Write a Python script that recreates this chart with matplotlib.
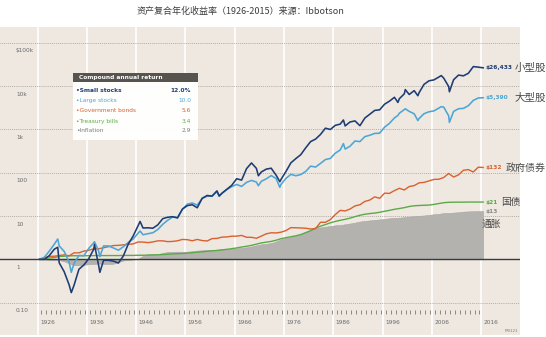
import matplotlib
matplotlib.use("Agg")
import matplotlib.pyplot as plt
import numpy as np
from matplotlib import font_manager
from matplotlib.patches import Rectangle

# Growth of $1 invested at the end of 1925 (year-end index values, 1925-2015)
YEARS = np.arange(1925, 2016)

SMALL_STOCKS = [
    1.00, 1.00, 1.22, 1.71, 0.83, 0.52, 0.26, 0.25, 0.59, 0.74,
    1.04, 1.71, 0.72, 0.95, 0.95, 0.91, 0.82, 1.19, 2.24, 3.45,
    5.98, 5.29, 5.34, 5.22, 6.25, 8.68, 9.36, 9.64, 9.01, 14.5,
    17.4, 18.2, 15.5, 25.6, 29.8, 28.8, 38.1, 33.5, 41.4, 51.2,
    72.6, 67.5, 124, 168, 126, 104, 121, 127, 87.6, 70.1,
    107, 169, 212, 261, 375, 524, 597, 764, 1067, 996,
    1241, 1326, 1203, 1485, 1572, 1217, 1831, 2241, 2746, 2835,
    3822, 4496, 5520, 5117, 6641, 6402, 7860, 7035, 10965, 13239,
    13901, 16169, 15269, 9784, 14041, 17970, 17274, 19804, 28257, 27420,
    26433,
]
LARGE_STOCKS = [
    1.00, 1.12, 1.55, 2.23, 2.04, 1.53, 0.87, 0.80, 1.23, 1.21,
    1.79, 2.39, 1.56, 2.04, 2.03, 1.83, 1.62, 1.95, 2.45, 2.94,
    4.01, 3.69, 3.90, 4.11, 4.88, 6.43, 7.98, 9.44, 9.35, 14.3,
    18.8, 20.0, 17.8, 25.6, 28.6, 28.8, 36.5, 33.3, 40.9, 47.7,
    53.6, 48.2, 59.8, 66.4, 60.8, 63.2, 72.2, 85.9, 73.3, 53.9,
    74.0, 91.6, 85.0, 90.6, 107, 142, 135, 164, 201, 214,
    282, 335, 352, 410, 540, 523, 681, 733, 807, 818,
    1125, 1382, 1843, 2370, 2868, 2607, 2297, 1789, 2302, 2553,
    2678, 3101, 3272, 2061, 2606, 2998, 3059, 3536, 4677, 5316,
    5390,
]
GOV_BONDS = [
    1.00, 1.08, 1.17, 1.18, 1.22, 1.27, 1.20, 1.41, 1.41, 1.55,
    1.62, 1.75, 1.75, 1.85, 1.96, 2.08, 2.10, 2.16, 2.21, 2.27,
    2.51, 2.50, 2.43, 2.52, 2.67, 2.67, 2.56, 2.59, 2.68, 2.88,
    2.84, 2.68, 2.88, 2.71, 2.65, 3.01, 3.04, 3.25, 3.29, 3.41,
    3.43, 3.56, 3.23, 3.22, 3.06, 3.43, 3.88, 4.10, 4.06, 4.23,
    4.61, 5.39, 5.35, 5.29, 5.22, 5.02, 5.10, 7.16, 7.17, 8.26,
    10.8, 13.5, 13.1, 14.5, 17.1, 18.2, 21.7, 23.4, 27.7, 25.6,
    33.7, 33.3, 38.6, 43.7, 39.9, 48.0, 50.3, 58.4, 59.8, 64.6,
    70.0, 70.7, 77.6, 96.1, 79.5, 89.1, 114, 118, 104, 134,
    132,
]
TREASURY_BILLS = [
    1.00, 1.03, 1.07, 1.10, 1.16, 1.18, 1.20, 1.21, 1.21, 1.21,
    1.21, 1.22, 1.22, 1.22, 1.22, 1.22, 1.22, 1.23, 1.23, 1.23,
    1.24, 1.24, 1.25, 1.26, 1.27, 1.29, 1.31, 1.33, 1.35, 1.36,
    1.39, 1.42, 1.46, 1.49, 1.53, 1.57, 1.60, 1.65, 1.70, 1.76,
    1.83, 1.92, 2.00, 2.10, 2.24, 2.39, 2.49, 2.59, 2.76, 2.99,
    3.16, 3.32, 3.49, 3.74, 4.13, 4.59, 5.27, 5.82, 6.34, 6.96,
    7.50, 7.96, 8.39, 8.93, 9.67, 10.4, 11.0, 11.4, 11.7, 12.2,
    12.9, 13.5, 14.3, 14.9, 15.6, 16.6, 17.2, 17.5, 17.7, 17.9,
    18.5, 19.4, 20.3, 20.7, 20.8, 20.9, 20.9, 21.0, 21.0, 21.0,
    21.0,
]
INFLATION = [
    1.00, 0.99, 0.97, 0.96, 0.96, 0.90, 0.81, 0.73, 0.73, 0.75,
    0.77, 0.78, 0.80, 0.78, 0.78, 0.79, 0.86, 0.94, 0.97, 0.99,
    1.02, 1.20, 1.31, 1.34, 1.32, 1.40, 1.48, 1.49, 1.50, 1.49,
    1.50, 1.54, 1.59, 1.62, 1.64, 1.66, 1.67, 1.70, 1.72, 1.74,
    1.78, 1.84, 1.89, 1.98, 2.10, 2.22, 2.29, 2.37, 2.58, 2.89,
    3.10, 3.25, 3.47, 3.78, 4.28, 4.81, 5.24, 5.45, 5.65, 5.88,
    6.10, 6.17, 6.44, 6.72, 7.03, 7.46, 7.69, 7.92, 8.13, 8.35,
    8.56, 8.85, 9.00, 9.14, 9.39, 9.71, 9.86, 10.1, 10.3, 10.6,
    11.0, 11.2, 11.7, 11.7, 12.0, 12.2, 12.6, 12.8, 12.9, 13.0,
    13.0,
]

# Intra-year highs and lows of the stock indices (decimal dates)
STOCK_EXTRA_DATES = [1929.70, 1932.45, 1937.15, 1938.25, 1946.40, 1962.45, 1970.40,
                     1974.75, 1987.65, 1998.70, 2000.20, 2002.75, 2007.50, 2009.15]
SMALL_EXTRA = [1.90, 0.17, 2.20, 0.50, 7.50, 29.0, 85.0,
               62.0, 1650, 4200, 8300, 6000, 17500, 7400]
LARGE_EXTRA = [2.95, 0.50, 2.55, 1.15, 4.50, 28.5, 50.0,
               46.0, 470, 2100, 3000, 1600, 3350, 1450]

SERIES_NAMES = ["Small stocks", "Large stocks", "Government bonds",
                "Treasury bills", "Inflation"]
CAGR_LABELS = ["12.0%", "10.0", "5.6", "3.4", "2.9"]
CN_NAMES = ["小型股", "大型股", "政府债券", "国债", "通胀"]
Y_TICKS = [0.1, 1, 10, 100, 1e3, 1e4, 1e5]
Y_TICK_LABELS = ["0.10", "1", "10", "100", "1k", "10k", "$100k"]
DECADES = np.arange(1926, 2017, 10)
TITLE = "资产复合年化收益率（1926-2015）来源：Ibbotson"

# Colours
BG = "#EEE8E1"
NAVY = "#1D3C74"
SKY = "#4DA6D3"
ORANGE = "#D8612E"
GREEN = "#5CA948"
GREY_FILL = "#B4B2AF"
GREY_TEXT = "#6A6A6A"
SERIES_COLORS = [NAVY, SKY, ORANGE, GREEN, "#7D7D7D"]

installed = {f.name for f in font_manager.fontManager.ttflist}
NARROW = "Liberation Sans Narrow" if "Liberation Sans Narrow" in installed else "DejaVu Sans"
SMALL = 5.0 if NARROW != "DejaVu Sans" else 4.2
CJK = ["Noto Sans CJK SC", "DejaVu Sans"]

W, H = 546, 337
fig = plt.figure(figsize=(W / 100, H / 100), dpi=100, facecolor="white")


def fx(x):
    return x / W


def fy(y):
    return 1 - y / H


def with_extremes(values, extra):
    """Merge year-end values with intra-year points, sorted by date."""
    dates = np.concatenate([YEARS + 1.0, STOCK_EXTRA_DATES])
    vals = np.concatenate([values, extra])
    order = np.argsort(dates)
    return dates[order], vals[order]


ax = fig.add_axes([0, fy(335), fx(520), fy(27) - fy(335)])
ax.set_facecolor(BG)
ax.set_yscale("log")
ax.set_xlim(1917.99, 2023.47)
ax.set_ylim(10 ** -1.748, 10 ** 5.365)
for s in ax.spines.values():
    s.set_visible(False)
ax.set_xticks([])
ax.set_yticks([])
ax.minorticks_off()

# decade column separators
for d in DECADES:
    ax.axvline(d - 0.4, color="white", lw=1.2, zorder=0.5)

# horizontal gridlines
for v in Y_TICKS:
    if v == 1:
        ax.axhline(v, color="#3A3A3A", lw=1.0, zorder=1.5)
    else:
        ax.axhline(v, color="#A39C95", lw=0.6, ls=(0, (1, 1.3)), zorder=0.6)

ytrans = ax.get_yaxis_transform()
for v, lab in zip(Y_TICKS, Y_TICK_LABELS):
    ax.annotate(lab, (16 / 520, v), xycoords=ytrans, xytext=(0, -5.8),
                textcoords="offset points", ha="left", va="center",
                fontsize=SMALL, family=NARROW, color=GREY_TEXT)

# year ticks and labels along the bottom
xtrans = ax.get_xaxis_transform()
ax.vlines(np.arange(1926, 2016) + 0.25, 0.068, 0.08, transform=xtrans,
          color="#7A7A7A", lw=0.6)
for d in DECADES:
    ax.text(d + 0.1, 0.039, str(d), transform=xtrans, ha="left", va="center",
            fontsize=SMALL, family=NARROW, color=GREY_TEXT)

t = YEARS + 1.0
ax.fill_between(t, 1, INFLATION, color=GREY_FILL, lw=0.4, edgecolor="#A8A6A3", zorder=1.2)
ax.plot(t, TREASURY_BILLS, color=GREEN, lw=1.0, zorder=2)
ax.plot(t, GOV_BONDS, color=ORANGE, lw=1.0, zorder=2.1)
ax.plot(*with_extremes(LARGE_STOCKS, LARGE_EXTRA), color=SKY, lw=1.15, zorder=2.2)
ax.plot(*with_extremes(SMALL_STOCKS, SMALL_EXTRA), color=NAVY, lw=1.15, zorder=2.3)

# ending values and Chinese series names
finals = [SMALL_STOCKS[-1], LARGE_STOCKS[-1], GOV_BONDS[-1],
          TREASURY_BILLS[-1], INFLATION[-1]]
label_colors = [NAVY, SKY, ORANGE, GREEN, "#8A8A8A"]
for v, c in zip(finals, label_colors):
    ax.text(2016.57, v, f"${v:,.0f}", ha="left", va="center", fontsize=SMALL,
            family=NARROW, fontweight="bold", color=c, clip_on=False)

cn_x = [2022.3, 2022.3, 2020.6, 2019.6, 2015.75]
cn_size = [7.6, 7.6, 7.2, 7.0, 7.0]
cn_offset = [0, 0, 0, 0, -9.0]
for name, x, v, sz, off in zip(CN_NAMES, cn_x, finals, cn_size, cn_offset):
    ax.annotate(name, (x, v), xytext=(0, off), textcoords="offset points",
                ha="left", va="center", fontsize=sz, family=CJK,
                color="#4A4A4A", annotation_clip=False)

# compound annual return box
fig.add_artist(Rectangle((fx(73), fy(140)), fx(198) - fx(73), fy(73) - fy(140),
                         transform=fig.transFigure, facecolor="white",
                         edgecolor="none", alpha=0.96, zorder=5))
fig.add_artist(Rectangle((fx(73), fy(82)), fx(198) - fx(73), fy(73) - fy(82),
                         transform=fig.transFigure, facecolor="#57534E",
                         edgecolor="none", zorder=6))
fig.text(fx(79), fy(77.5), "Compound annual return", ha="left", va="center",
         fontsize=SMALL, family=NARROW, fontweight="bold", color="white", zorder=7)
row_y = [90, 100.6, 111, 121.2, 131]
for i, (name, val, c, y) in enumerate(zip(SERIES_NAMES, CAGR_LABELS, SERIES_COLORS, row_y)):
    weight = "bold" if i == 0 else "normal"
    fig.text(fx(76), fy(y), "\u2022" + name, ha="left", va="center",
             fontsize=SMALL, family=NARROW, fontweight=weight, color=c, zorder=7)
    fig.text(fx(191), fy(y), val, ha="right", va="center", fontsize=SMALL,
             family=NARROW, fontweight=weight, color=c, zorder=7)

fig.text(fx(240.5), fy(11), TITLE, ha="center", va="center", fontsize=6.5,
         family=CJK, color="#3D3D3D")
fig.text(fx(505), fy(331), "PRI121", ha="left", va="center", fontsize=2.8,
         family=NARROW, color="#777777")

fig.savefig("out.png", dpi=100, facecolor="white")
